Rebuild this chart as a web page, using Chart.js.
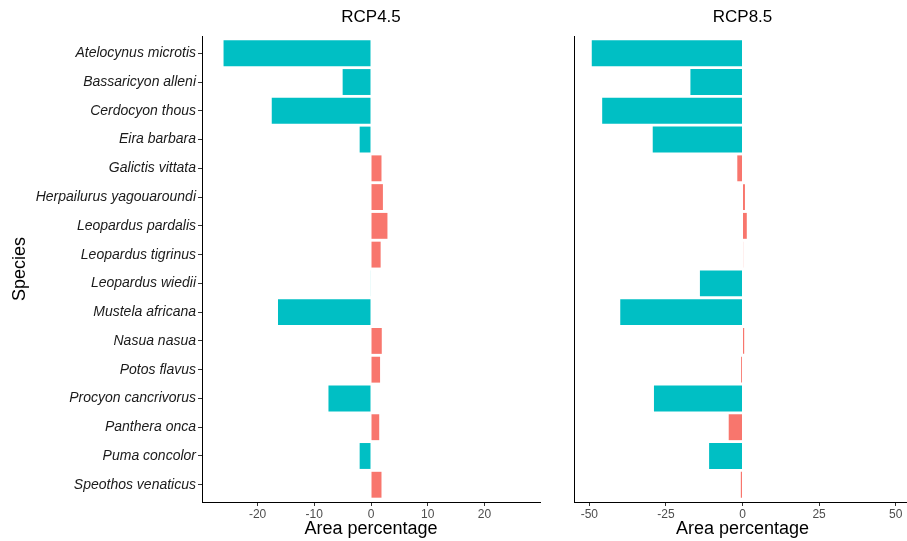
<!DOCTYPE html>
<html><head><meta charset="utf-8">
<script src="https://cdn.jsdelivr.net/npm/chart.js@4"></script>
<style>
html,body{margin:0;padding:0;background:#fff;overflow:hidden;width:907px;height:541px;}
#wrap{position:relative;width:907px;height:541px;overflow:hidden;}
canvas{position:absolute;top:0;}
#c1{left:0;}
#c2{left:555px;}
</style></head><body>
<div id="wrap">
<canvas id="c1" width="555" height="541"></canvas>
<canvas id="c2" width="360" height="541"></canvas>
</div>
<script>
const species = ['Atelocynus microtis','Bassaricyon alleni','Cerdocyon thous','Eira barbara','Galictis vittata','Herpailurus yagouaroundi','Leopardus pardalis','Leopardus tigrinus','Leopardus wiedii','Mustela africana','Nasua nasua','Potos flavus','Procyon cancrivorus','Panthera onca','Puma concolor','Speothos venaticus'];
const rcp45 = [-26.0, -5.0, -17.5, -2.0, 1.85, 2.1, 2.9, 1.7, -0.1, -16.4, 1.9, 1.6, -7.5, 1.45, -2.0, 1.85];
const rcp85 = [-49.2, -17.0, -45.8, -29.3, -1.7, 0.8, 1.4, 0.2, -13.9, -39.9, 0.55, -0.45, -28.9, -4.5, -10.9, -0.55];
const group = ['loss','loss','loss','loss','gain','gain','gain','gain','loss','loss','gain','gain','loss','gain','loss','gain'];
const ticks45 = [-20, -10, 0, 10, 20];
const ticks85 = [-50, -25, 0, 25, 50];
const panelTitles = ['RCP4.5', 'RCP8.5'];
const xTitle = 'Area percentage';
const yTitle = 'Species';
const colors = {gain: '#F8766D', loss: '#00BFC4'};
const FAM = '"Liberation Sans", Arial, Helvetica, sans-serif';

function makeChart(id, values, tickVals, range, title, showY, yWidth, padRight) {
  return new Chart(document.getElementById(id), {
    type: 'bar',
    data: {
      datasets: [{
        data: values.map((v, i) => ({x: v, y: i})),
        backgroundColor: group.map(g => colors[g]),
        borderWidth: 0,
        barPercentage: 0.9,
        categoryPercentage: 1
      }]
    },
    options: {
      indexAxis: 'y',
      responsive: false,
      animation: false,
      layout: {padding: {left: 0, right: padRight, top: 0, bottom: 0}},
      plugins: {legend: {display: false}, tooltip: {enabled: false}},
      scales: {
        x: {
          type: 'linear', position: 'bottom', min: -range, max: range, offset: false,
          afterBuildTicks: s => { s.ticks = tickVals.map(v => ({value: v})); },
          afterFit: s => { s.height = 39; },
          grid: {display: true, offset: false, drawOnChartArea: false, drawTicks: true, tickLength: 4, color: '#333', lineWidth: 1},
          border: {display: true, color: '#000', width: 1},
          ticks: {color: '#4d4d4d', font: {family: FAM, size: 12}, padding: 1, maxRotation: 0, autoSkip: false},
          title: {display: true, text: xTitle, color: '#000', font: {family: FAM, size: 18, lineHeight: 1}, padding: {top: 0, bottom: 3}}
        },
        xTop: {
          type: 'linear', axis: 'x', position: 'top', display: true,
          afterFit: s => { s.height = 36; },
          grid: {display: false}, border: {display: false}, ticks: {display: false},
          title: {display: true, text: title, color: '#000', font: {family: FAM, size: 17, lineHeight: 1}, padding: {top: 9, bottom: 0}}
        },
        y: {
          type: 'linear', min: -0.6, max: 15.6, reverse: true, offset: false,
          afterBuildTicks: s => { s.ticks = species.map((_, i) => ({value: i})); },
          afterFit: s => { s.width = yWidth; },
          grid: {display: true, offset: false, drawOnChartArea: false, drawTicks: showY, tickLength: 4, color: '#333', lineWidth: 1},
          border: {display: true, color: '#000', width: 1},
          ticks: {display: showY, autoSkip: false, padding: 2, color: '#1a1a1a',
                  font: {family: FAM, size: 14, style: 'italic'},
                  callback: v => species[v]},
          title: {display: showY, text: yTitle, color: '#000', font: {family: FAM, size: 18, lineHeight: 1}, padding: {top: 11, bottom: 0}}
        }
      }
    }
  });
}

makeChart('c1', rcp45, ticks45, 29.8, panelTitles[0], true, 202, 15);
makeChart('c2', rcp85, ticks85, 55, panelTitles[1], false, 19, 4);
</script>
</body></html>
